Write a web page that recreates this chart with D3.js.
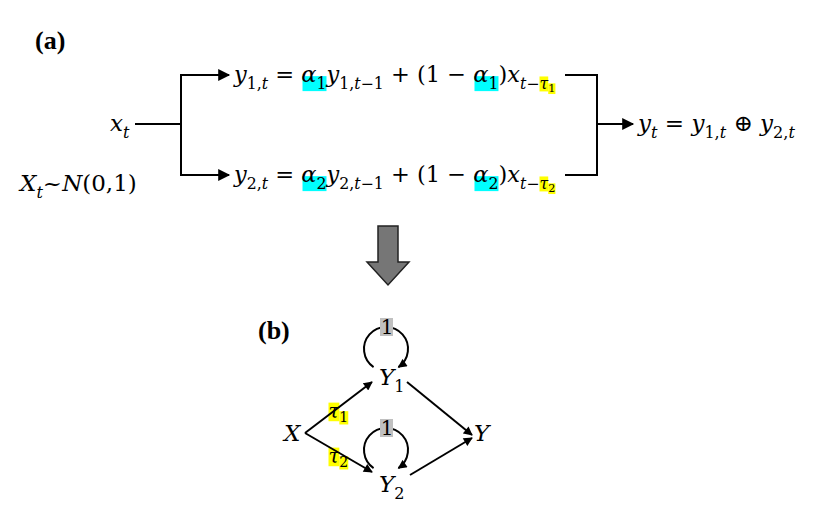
<!DOCTYPE html>
<html><head><meta charset="utf-8">
<script src="https://cdn.jsdelivr.net/npm/d3@7"></script>
<style>body{margin:0;background:#fff}</style>
</head><body>
<svg id="fig" width="822" height="514"></svg>
<script>
// pieces: [text, kind] kind: i=italic, n=normal, s=sub italic, sn=sub normal, a=alpha-highlight sub, T=tau highlighted, t=tau sub
var eq1 = [["y","i"],["1,","sn"],["t","s"],[" = ","n"],["α","i"],["1","a"],["y","i"],["1,","sn"],["t","s"],["−1","sn"],[" + (1 − ","n"],["α","i"],["1","a"],[")","n"],["x","i"],["t","s"],["−","sn"],["τ","T"],["1","t"]];
var eq2 = [["y","i"],["2,","sn"],["t","s"],[" = ","n"],["α","i"],["2","a"],["y","i"],["2,","sn"],["t","s"],["−1","sn"],[" + (1 − ","n"],["α","i"],["2","a"],[")","n"],["x","i"],["t","s"],["−","sn"],["τ","T"],["2","t"]];
var eqOut = [["y","i"],["t","s"],[" = ","n"],["y","i"],["1,","sn"],["t","s"],[" ⊕ ","n"],["y","i"],["2,","sn"],["t","s"]];
var eqX = [["x","i"],["t","s"]];
var eqN = [["X","i"],["t","s"],["~","n"],["N","i"],["(0,1)","n"]];

var nodes = [
  {id:"X", x:293, y:433, sub:""},
  {id:"Y1", x:388, y:377, sub:"1"},
  {id:"Y2", x:388, y:484, sub:"2"},
  {id:"Y", x:483, y:433, sub:""}
];
var edges = [
  {s:[305,433], e:[372,382], label:"1"},
  {s:[305,433], e:[372,472], label:"2"},
  {s:[407,382], e:[472,435], label:null},
  {s:[410,475], e:[472,438], label:null}
];
var loops = [{cx:386, cy:349}, {cx:386, cy:450}];

var svg = d3.select("#fig");
var defs = svg.append("defs");
defs.append("marker").attr("id","ah").attr("viewBox","0 0 10 10").attr("refX",9).attr("refY",5)
  .attr("markerWidth",10).attr("markerHeight",9).attr("markerUnits","userSpaceOnUse").attr("orient","auto")
  .append("path").attr("d","M0,0L10,5L0,10z").attr("fill","#000");
defs.append("marker").attr("id","ah2").attr("viewBox","0 0 10 10").attr("refX",9).attr("refY",5)
  .attr("markerWidth",14).attr("markerHeight",12).attr("markerUnits","userSpaceOnUse").attr("orient","auto")
  .append("path").attr("d","M0,0L10,5L0,10z").attr("fill","#000");

var FONT = "'DejaVu Serif', serif";
function math(g, pieces, x, y, size) {
  var cx = x;
  pieces.forEach(function(p) {
    var k = p[1];
    var sub = k=="s"||k=="sn"||k=="a"||k=="t";
    var fs = sub ? size*0.7 : size;
    var dy = sub ? size*0.3 : 0;
    if (k=="T") { fs = size*0.7; dy = size*0.3; }
    if (k=="t") { fs = size*0.5; dy = size*0.45; }
    var t = g.append("text").attr("x",cx).attr("y",y+dy).attr("font-family",FONT)
      .attr("font-size",fs).attr("font-style",(k=="i"||k=="s"||k=="T")?"italic":"normal")
      .attr("xml:space","preserve").style("white-space","pre").text(p[0]);
    var w = t.node().getComputedTextLength();
    if (k=="a") {
      g.insert("rect","text").attr("x",cx-size*0.62).attr("y",y+dy-fs*0.8)
        .attr("width",w+size*0.62).attr("height",fs*0.95).attr("fill","#00ffff");
    }
    if (k=="t"||k=="T") {
      g.insert("rect","text").attr("x",cx).attr("y",y+dy-fs*0.78).attr("width",w).attr("height",fs*0.95).attr("fill","#ffff00");
    }
    cx += w;
  });
  return cx;
}

// part (a)
svg.append("text").attr("x",35).attr("y",49).attr("font-family","'Liberation Serif', serif")
  .attr("font-weight","bold").attr("font-size",26).text("(a)");
math(svg.append("g"), eqX, 110, 131, 23);
math(svg.append("g"), eqN, 20, 191, 23);
math(svg.append("g"), eq1, 234, 82, 22.5);
math(svg.append("g"), eq2, 234, 182, 22.5);
math(svg.append("g"), eqOut, 638, 131, 23);

var line = function(pts){ return d3.line()(pts); };
var ln = svg.append("g").attr("fill","none").attr("stroke","#000").attr("stroke-width",2);
ln.append("path").attr("d",line([[135,124],[181,124]]));
ln.append("path").attr("d",line([[181,75],[181,175]]));
ln.append("path").attr("d",line([[180,75],[229,75]])).attr("marker-end","url(#ah2)");
ln.append("path").attr("d",line([[180,175],[229,175]])).attr("marker-end","url(#ah2)");
ln.append("path").attr("d",line([[565,75],[597,75],[597,175],[565,175]]));
ln.append("path").attr("d",line([[596,124],[633,124]])).attr("marker-end","url(#ah2)");

// big down arrow
svg.append("path").attr("d",line([[378,226],[398,226],[398,262],[409,262],[388,285],[367,262],[378,262]])+"Z")
  .attr("fill","#767676").attr("stroke","#222").attr("stroke-width",1.5);

// part (b)
svg.append("text").attr("x",258).attr("y",339).attr("font-family","'Liberation Serif', serif")
  .attr("font-weight","bold").attr("font-size",26).text("(b)");

var gb = svg.append("g");
nodes.forEach(function(n){
  var p = [[n.id[0],"i"]];
  if (n.sub) p.push([n.sub,"sn"]);
  math(gb, p, n.x-9, n.y+8, 23);
});
var eg = gb.append("g").attr("stroke","#000").attr("stroke-width",2).attr("fill","none");
edges.forEach(function(e){
  eg.append("path").attr("d",line([e.s,e.e])).attr("marker-end","url(#ah)");
});
edges.filter(function(e){return e.label;}).forEach(function(e){
  var mx = (e.s[0]+e.e[0])/2 - 10, my = (e.s[1]+e.e[1])/2 + 2;
  math(gb, [["τ","T"],[e.label,"t"]], mx, my, 28);
});
loops.forEach(function(l){
  var r = 22;
  eg.append("path").attr("d",
    "M"+(l.cx-r*Math.sin(0.6))+","+(l.cy+r*Math.cos(0.6))+
    " A"+r+","+r+" 0 1 1 "+(l.cx+r*Math.sin(0.6))+","+(l.cy+r*Math.cos(0.6)))
    .attr("marker-end","url(#ah)");
  gb.append("rect").attr("x",l.cx-6).attr("y",l.cy-r-9).attr("width",13).attr("height",18).attr("fill","#c0c0c0");
  gb.append("text").attr("x",l.cx+1).attr("y",l.cy-r+7).attr("text-anchor","middle")
    .attr("font-family",FONT).attr("font-size",20).text("1");
});
</script>
</body></html>
